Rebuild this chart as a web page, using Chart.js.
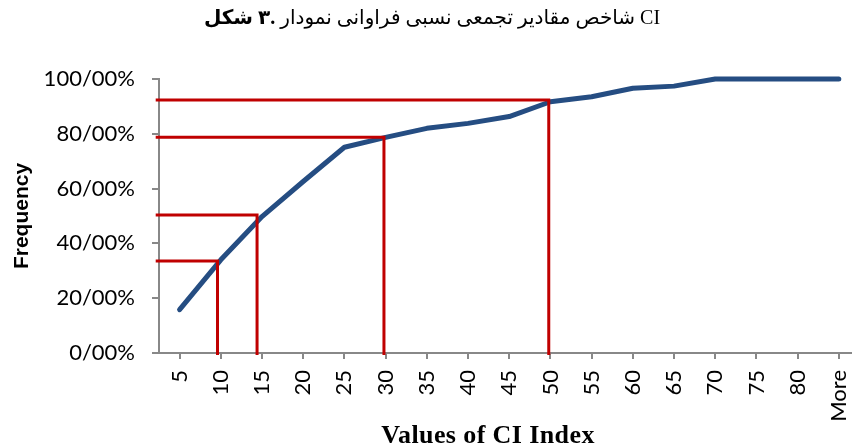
<!DOCTYPE html>
<html>
<head>
<meta charset="utf-8">
<script src="https://cdn.jsdelivr.net/npm/chart.js@4.4.1/dist/chart.umd.min.js"></script>
<style>
  html, body { margin: 0; padding: 0; background: #fff; }
  #wrap { position: relative; width: 852px; height: 447px; }
  #title {
    position: absolute; left: 0; top: 5px; width: 864px;
    display: flex; flex-direction: row; direction: ltr;
    justify-content: center; align-items: baseline; gap: 5px;
    font-family: "Liberation Serif", "DejaVu Sans", serif; font-size: 20px; color: #000;
  }
  #title span { direction: ltr; unicode-bidi: isolate; }
  #title .b { font-weight: bold; }
  #xTitle {
    position: absolute; left: 0; top: 420px; width: 976px; text-align: center;
    font-family: "Liberation Serif", serif; font-weight: bold; font-size: 26px;
    letter-spacing: 0.4px; color: #000; line-height: 30px;
  }
</style>
</head>
<body>
<div id="wrap">
  <div id="title"><span class="b">شکل</span><span class="b">۳.</span><span>نمودار</span><span>فراوانی</span><span>نسبی</span><span>تجمعی</span><span>مقادیر</span><span>شاخص</span><span>CI</span></div>
  <canvas id="cumChart" width="852" height="447"></canvas>
  <div id="xTitle">Values of CI Index</div>
</div>
<script>
const categories = ['5', '10', '15', '20', '25', '30', '35', '40', '45', '50', '55', '60', '65', '70', '75', '80', 'More'];
const ciPositions = [5, 10, 15, 20, 25, 30, 35, 40, 45, 50, 55, 60, 65, 70, 75, 80, 85];
const cumulativePct = [15.8, 34.0, 49.8, 62.6, 75.1, 78.7, 82.0, 83.8, 86.3, 91.7, 93.5, 96.6, 97.4, 100, 100, 100, 100];
const yTicks = [0, 20, 40, 60, 80, 100];

// red reading guides (CI value, cumulative %)
const guideX = [9.6, 14.4, 29.8, 49.8];
const guideY = [33.6, 50.4, 78.7, 92.3];

const axisGray = '#888888';
const tickFont = { family: 'Lato', size: 22 };

const guideSets = guideX.map((gx, i) => ({
    data: [{ x: 2.1, y: guideY[i] }, { x: gx, y: guideY[i] }, { x: gx, y: -0.7 }],
    borderColor: '#C00000',
    borderWidth: 3,
    pointRadius: 0,
    tension: 0,
    clip: false,
    order: 0
}));

new Chart(document.getElementById('cumChart').getContext('2d'), {
    type: 'line',
    data: {
        datasets: [{
            data: ciPositions.map((x, i) => ({ x: x, y: cumulativePct[i] })),
            borderColor: '#254D82',
            borderWidth: 5,
            borderCapStyle: 'round',
            borderJoinStyle: 'round',
            pointRadius: 0,
            tension: 0,
            clip: false,
            order: 1
        }, ...guideSets]
    },
    options: {
        responsive: false,
        animation: false,
        layout: { padding: { top: 79, left: 0, right: 0, bottom: 0 } },
        plugins: { legend: { display: false }, tooltip: { enabled: false } },
        scales: {
            x: {
                type: 'linear',
                min: 2.5,
                max: 86.6,
                afterBuildTicks: s => { s.ticks = ciPositions.map(v => ({ value: v })); },
                afterFit: s => { s.height = 94; s.paddingLeft = 0; s.paddingRight = 0; },
                ticks: {
                    callback: v => categories[ciPositions.indexOf(v)],
                    minRotation: 90, maxRotation: 90, autoSkip: false,
                    font: tickFont, color: '#000', padding: 11
                },
                grid: { drawOnChartArea: false, tickLength: 6, color: axisGray, lineWidth: 2 },
                border: { color: axisGray, width: 2 }
            },
            y: {
                min: 0,
                max: 100,
                afterBuildTicks: s => { s.ticks = yTicks.map(v => ({ value: v })); },
                afterFit: s => { s.width = 159; s.paddingTop = 0; s.paddingBottom = 0; },
                ticks: { callback: v => v + '/00%', font: tickFont, color: '#000', padding: 17 },
                grid: { drawOnChartArea: false, tickLength: 7, color: axisGray, lineWidth: 2 },
                border: { color: axisGray, width: 2 },
                title: {
                    display: true, text: 'Frequency', color: '#000',
                    font: { family: 'Liberation Sans', size: 21, weight: 'bold' },
                    padding: { top: 9.5, bottom: 0 }
                }
            }
        }
    }
});
</script>
</body>
</html>
